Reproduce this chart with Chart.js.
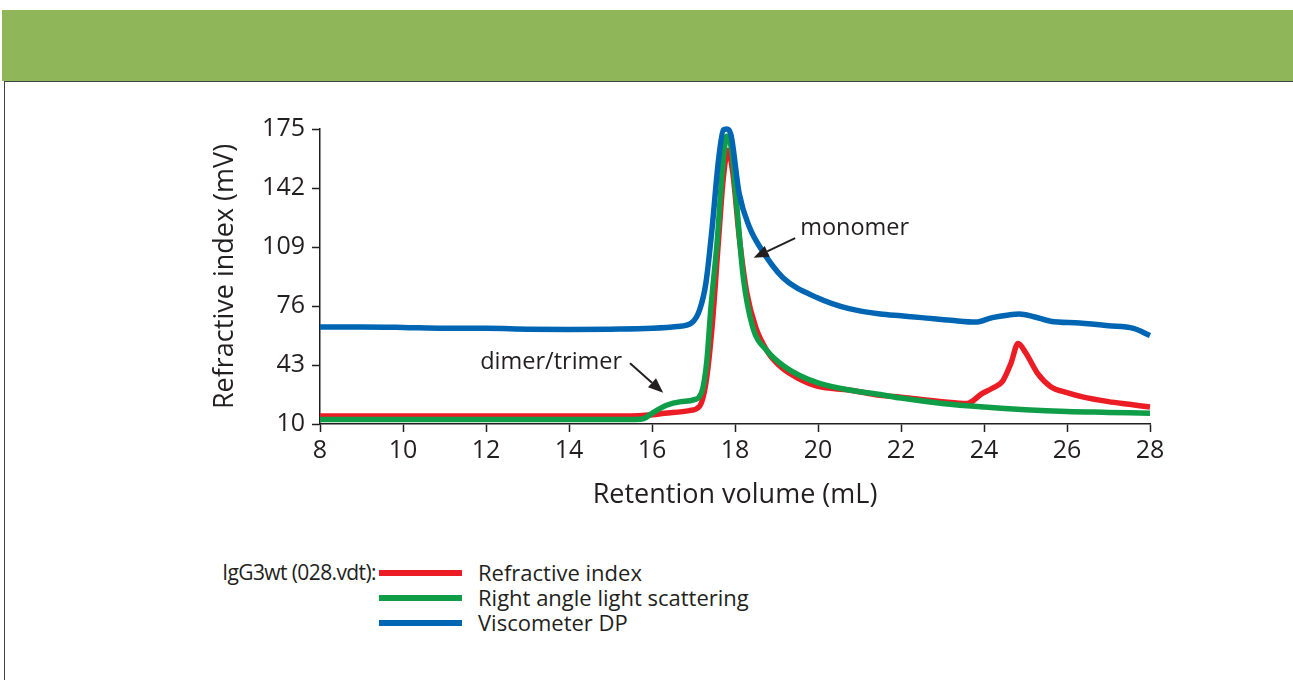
<!DOCTYPE html>
<html>
<head>
<meta charset="utf-8">
<script src="https://cdn.jsdelivr.net/npm/chart.js@4.4.0/dist/chart.umd.min.js"></script>
<style>
  body { margin: 0; background: #fff; font-family: "Open Sans", sans-serif; color: #231f20; }
  #page { position: relative; width: 1293px; height: 680px; overflow: hidden; }
  #band { position: absolute; left: 2px; top: 10px; width: 1291px; height: 71px; background: #8fb75a; }
  #box { position: absolute; left: 4px; top: 81px; width: 1300px; height: 700px; border-left: 1.5px solid #444; border-top: 1.5px solid #444; }
  #chart { position: absolute; left: 0; top: 0; }
  .leg { position: absolute; font-size: 22px; line-height: 25px; white-space: nowrap; }
  .swatch { position: absolute; left: 379px; width: 83px; height: 6px; }
</style>
</head>
<body>
<div id="page">
  <div id="band"></div>
  <div id="box"></div>
  <canvas id="chart" width="1293" height="512"></canvas>
  <div class="leg" style="right:917px; top:560px; font-size:21px; letter-spacing:-0.6px;">IgG3wt (028.vdt):</div>
  <div class="swatch" style="top:570px; background:#ec1c24;"></div>
  <div class="swatch" style="top:595px; background:#0f9d48;"></div>
  <div class="swatch" style="top:620px; background:#0066b3;"></div>
  <div class="leg" style="left:478px; top:560px;">Refractive index</div>
  <div class="leg" style="left:478px; top:585px;">Right angle light scattering</div>
  <div class="leg" style="left:478px; top:610px;">Viscometer DP</div>
</div>
<script>
// retention volume (mL) / signal (mV)
const riX = [8, 10, 12, 14, 15.5, 15.9, 16.3, 16.9, 17.15, 17.3, 17.45, 17.6, 17.72, 17.83, 17.95, 18.1, 18.28, 18.5, 18.77, 19.1, 19.57, 20.0, 20.75, 21.5, 22.0, 22.4, 23.0, 23.6, 23.95, 24.2, 24.45, 24.65, 24.82, 25.0, 25.3, 25.6, 26.0, 26.4, 27.0, 27.5, 28];
const riY = [14.5, 14.5, 14.5, 14.5, 14.5, 15, 16, 17.5, 20, 33, 65, 112, 148, 163, 150, 115, 84, 64, 51, 42, 35, 31, 29, 26, 25, 24, 22.5, 21.5, 27, 30, 34, 44, 55, 50, 38, 31, 27.5, 25, 22.5, 21, 19.5];

const ralsX = [8, 10, 12, 14, 15.6, 15.8, 16.0, 16.35, 16.7, 17.0, 17.2, 17.32, 17.42, 17.57, 17.7, 17.8, 17.92, 18.05, 18.2, 18.43, 18.77, 19.2, 19.57, 20.0, 20.75, 21.5, 22.0, 23.0, 24.0, 25.0, 26.0, 27.0, 28];
const ralsY = [12.5, 12.5, 12.5, 12.5, 12.5, 13, 16, 20.5, 22.5, 23.5, 28, 45, 75, 112, 153, 171, 163, 130, 92, 64, 51, 42, 37, 33, 29, 26.5, 24.5, 21.5, 19.5, 18, 17, 16.5, 16];

const dpX = [8, 9, 10, 11, 12, 13, 14, 15, 16, 16.6, 16.95, 17.15, 17.3, 17.45, 17.6, 17.72, 17.8, 17.9, 18.1, 18.35, 18.6, 19.15, 20.0, 20.75, 21.5, 22.0, 22.5, 23.2, 23.8, 24.2, 24.6, 24.85, 25.2, 25.6, 26.3, 27, 27.6, 28];
const dpY = [64.3, 64.3, 64, 63.5, 63.5, 63, 62.8, 63, 63.5, 64.5, 66.5, 74, 89, 120, 157, 174.5, 175, 172, 139, 120, 109, 92, 80.5, 74.5, 71.5, 70.5, 69.5, 68, 67, 69.5, 71, 71.5, 70, 67.5, 66.5, 65, 63.5, 59.5];

const yTicks = [10, 43, 76, 109, 142, 175];
const xTicks = [8, 10, 12, 14, 16, 18, 20, 22, 24, 26, 28];

const pts = (xs, ys) => xs.map((x, i) => ({ x: x, y: ys[i] }));
const ink = '#231f20';

// annotations: text + arrow (tail -> head) in data units
const notes = [
    { text: 'monomer', tx: 19.57, ty: 119.6, align: 'left', from: [19.45, 114], to: [18.45, 103] },
    { text: 'dimer/trimer', tx: 15.28, ty: 44.7, align: 'right', from: [15.47, 44], to: [16.27, 27.5] }
];

const arrowPlugin = {
    id: 'arrows',
    afterDatasetsDraw(chart) {
        const { ctx, scales: { x, y } } = chart;
        ctx.save();
        ctx.fillStyle = ink;
        ctx.strokeStyle = ink;
        ctx.font = '23.5px "Open Sans"';
        ctx.textBaseline = 'middle';
        notes.forEach(n => {
            ctx.textAlign = n.align;
            ctx.fillText(n.text, x.getPixelForValue(n.tx), y.getPixelForValue(n.ty));
            const x1 = x.getPixelForValue(n.from[0]), y1 = y.getPixelForValue(n.from[1]);
            const x2 = x.getPixelForValue(n.to[0]), y2 = y.getPixelForValue(n.to[1]);
            const a = Math.atan2(y2 - y1, x2 - x1);
            const hl = 15, hw = 6;
            const bx = x2 - hl * Math.cos(a), by = y2 - hl * Math.sin(a);
            ctx.lineWidth = 2;
            ctx.beginPath();
            ctx.moveTo(x1, y1);
            ctx.lineTo(bx, by);
            ctx.stroke();
            ctx.beginPath();
            ctx.moveTo(x2, y2);
            ctx.lineTo(bx + hw * Math.sin(a), by - hw * Math.cos(a));
            ctx.lineTo(bx - hw * Math.sin(a), by + hw * Math.cos(a));
            ctx.closePath();
            ctx.fill();
        });
        ctx.restore();
    }
};

const line = (label, data, color, order) => ({
    label: label,
    data: data,
    borderColor: color,
    backgroundColor: color,
    borderWidth: 5.5,
    pointRadius: 0,
    cubicInterpolationMode: 'monotone',
    clip: false,
    order: order
});

const ctx = document.getElementById('chart').getContext('2d');
const myChart = new Chart(ctx, {
    type: 'line',
    data: {
        datasets: [
            line('Viscometer DP', pts(dpX, dpY), '#0066b3', 0),
            line('Right angle light scattering', pts(ralsX, ralsY), '#0f9d48', 1),
            line('Refractive index', pts(riX, riY), '#ec1c24', 2)
        ]
    },
    options: {
        responsive: false,
        animation: false,
        devicePixelRatio: 1,
        layout: { padding: { left: 200, right: 143, top: 129, bottom: 0 } },
        plugins: { legend: { display: false }, tooltip: { enabled: false } },
        scales: {
            x: {
                type: 'linear',
                min: 8,
                max: 28,
                afterBuildTicks: s => { s.ticks = xTicks.map(v => ({ value: v })); },
                afterFit: s => { s.height = 88; },
                grid: { drawOnChartArea: false, tickLength: 8, tickColor: ink, tickWidth: 1.5 },
                border: { color: ink, width: 1.5 },
                ticks: { color: ink, padding: 4, font: { family: 'Open Sans', size: 25 }, maxRotation: 0 },
                title: { display: true, text: 'Retention volume (mL)', color: ink, padding: 0, font: { family: 'Open Sans', size: 27 } }
            },
            y: {
                min: 10,
                max: 175,
                afterBuildTicks: s => { s.ticks = yTicks.map(v => ({ value: v })); },
                afterFit: s => { s.width = 120; },
                grid: { drawOnChartArea: false, tickLength: 8, tickColor: ink, tickWidth: 1.5 },
                border: { color: ink, width: 1.5 },
                ticks: { color: ink, padding: 7, font: { family: 'Open Sans', size: 25 } },
                title: { display: true, text: 'Refractive index (mV)', color: ink, padding: { top: 9, bottom: 0 }, font: { family: 'Open Sans', size: 27 } }
            }
        }
    },
    plugins: [arrowPlugin]
});
</script>
</body>
</html>
